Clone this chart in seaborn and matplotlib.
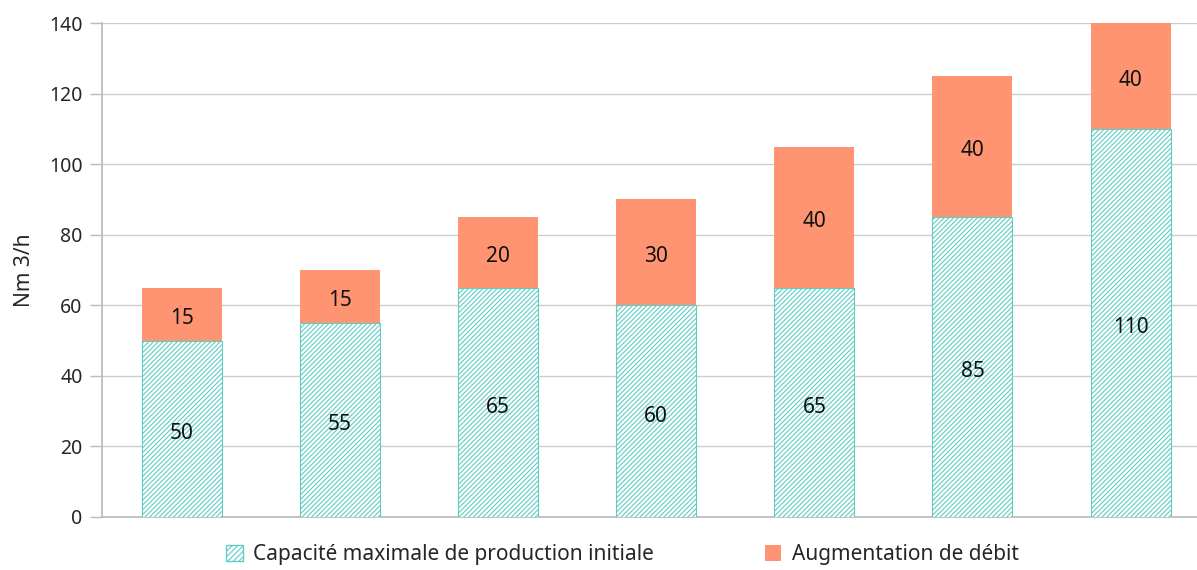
import pandas as pd
import matplotlib.pyplot as plt
import seaborn as sns
from matplotlib.patches import Patch

# Data
etapes = ["1", "2", "3", "4", "5", "6", "7"]
capacite_initiale = [50, 55, 65, 60, 65, 85, 110]
augmentation = [15, 15, 20, 30, 40, 40, 40]

df = pd.DataFrame({"etape": etapes, "base": capacite_initiale, "aug": augmentation})
df["total"] = df["base"] + df["aug"]

teal = "#5fcdc3"
orange = "#ff9473"
ymax = 140

sns.set_theme(style="white")
plt.rcParams["font.family"] = ["Noto Sans", "DejaVu Sans"]
plt.rcParams["hatch.linewidth"] = 0.8

fig = plt.figure(figsize=(11.97, 5.70), dpi=100)
ax = fig.add_axes([0.0852, 0.093, 0.9148, 0.8666])

# Barre totale (orange) puis la base hachuree par dessus
sns.barplot(data=df, x="etape", y="total", color=orange, saturation=1, width=0.506, ax=ax, zorder=2)
sns.barplot(data=df, x="etape", y="base", color="white", saturation=1, width=0.506, ax=ax, zorder=3)

n = len(etapes)
for p in ax.patches[n:]:
    p.set_hatch("///////")
    p.set_edgecolor(teal)
    p.set_linewidth(0.8)
for p in ax.patches[:n]:
    p.set_edgecolor("none")

# Labels (centre de la partie visible)
for i in range(n):
    b = df["base"][i]
    top = min(df["total"][i], ymax)
    ax.text(i, b / 2 - 1.4, str(b), ha="center", va="center", fontsize=15, color="#111111", zorder=5)
    ax.text(i, (b + top) / 2 - 1.2, str(df["aug"][i]), ha="center", va="center", fontsize=15, color="#111111", zorder=5)

ax.set_ylim(0, ymax)
ax.set_xlim(-0.506, 6.42)
ax.set_yticks(range(0, 141, 20))
ax.yaxis.grid(True, color="#cccccc", linewidth=1)
ax.set_axisbelow(True)
ax.set_xticks([])
ax.set_xlabel("")
ax.set_ylabel("Nm 3/h", fontsize=15, labelpad=10)
ax.tick_params(axis="y", labelsize=14, left=True, length=9, color="#bbbbbb", width=1, pad=5)

for s in ["top", "right"]:
    ax.spines[s].set_visible(False)
ax.spines["left"].set_color("#bbbbbb")
ax.spines["bottom"].set_color("#bbbbbb")

handles = [
    Patch(facecolor="white", edgecolor=teal, hatch="//////", label="Capacité maximale de production initiale"),
    Patch(facecolor=orange, edgecolor="none", label="Augmentation de débit"),
]
fig.legend(handles=handles, loc="center", bbox_to_anchor=(0.52, 0.027), ncol=2, frameon=False,
           fontsize=15, handlelength=0.8, handleheight=0.8, columnspacing=5.3, handletextpad=0.5)

plt.savefig("out.png", dpi=100)
